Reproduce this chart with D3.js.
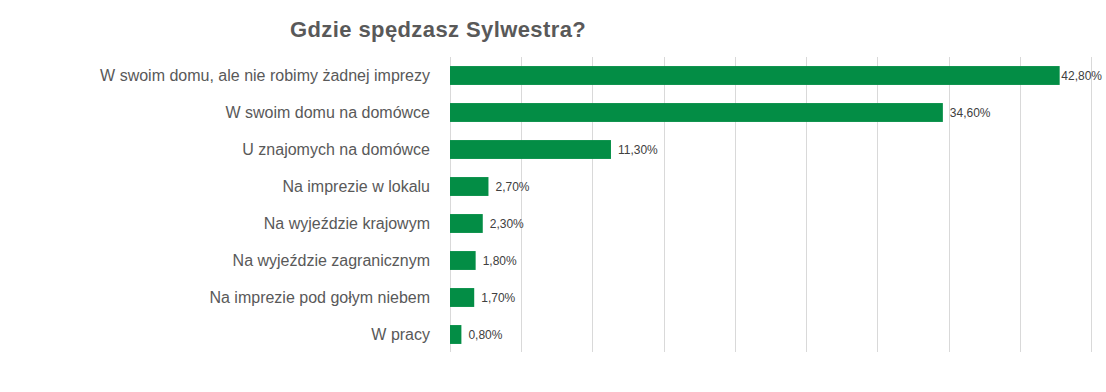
<!DOCTYPE html>
<html>
<head>
<meta charset="utf-8">
<script src="https://cdn.jsdelivr.net/npm/d3@7/dist/d3.min.js"></script>
<style>
  html, body { margin: 0; padding: 0; background: #fff; }
  svg { display: block; font-family: "Liberation Sans", Arial, sans-serif; }
</style>
</head>
<body>
<svg id="chart" width="1106" height="392"></svg>
<script>
const title = "Gdzie spędzasz Sylwestra?";
const categories = [
  "W swoim domu, ale nie robimy żadnej imprezy",
  "W swoim domu na domówce",
  "U znajomych na domówce",
  "Na imprezie w lokalu",
  "Na wyjeździe krajowym",
  "Na wyjeździe zagranicznym",
  "Na imprezie pod gołym niebem",
  "W pracy"
];
const values = [42.8, 34.6, 11.3, 2.7, 2.3, 1.8, 1.7, 0.8];
const gridTicks = [0, 5, 10, 15, 20, 25, 30, 35, 40, 45];

(function () {
const svg = d3.select("#chart");
const plotLeft = 450, plotRight = 1091, plotTop = 57, plotBottom = 353;

const x = d3.scaleLinear().domain([0, 45]).range([plotLeft, plotRight]);
const y = d3.scaleBand().domain(categories).range([plotTop, plotBottom]).paddingInner(0.49).paddingOuter(0.245);

// gridlines
svg.append("g").selectAll("line").data(gridTicks).join("line")
  .attr("x1", d => Math.round(x(d)) + 0.5).attr("x2", d => Math.round(x(d)) + 0.5)
  .attr("y1", plotTop).attr("y2", plotBottom - 1)
  .attr("stroke", "#d9d9d9").attr("stroke-width", 1);

// bars
svg.append("g").selectAll("rect").data(values).join("rect")
  .attr("x", x(0))
  .attr("y", (d, i) => y(categories[i]))
  .attr("width", d => x(d) - x(0))
  .attr("height", y.bandwidth())
  .attr("fill", "#038d45");

// category labels
svg.append("g").selectAll("text").data(categories).join("text")
  .attr("x", 430)
  .attr("y", d => y(d) + y.bandwidth() / 2)
  .attr("dy", "0.35em")
  .attr("text-anchor", "end")
  .attr("font-size", 16)
  .attr("fill", "#595959")
  .text(d => d);

// value labels
const fmt = v => v.toFixed(2).replace(".", ",") + "%";
svg.append("g").selectAll("text").data(values).join("text")
  .attr("y", (d, i) => y(categories[i]) + y.bandwidth() / 2)
  .attr("dy", "0.35em")
  .attr("font-size", 12)
  .attr("fill", "#404040")
  .text(d => fmt(d))
  .each(function (d) {
    const w = this.getComputedTextLength();
    let px = x(d) + 7;
    if (px + w > 1102) px = Math.max(x(d) + 1, 1102 - w);
    d3.select(this).attr("x", px);
  });

// title
svg.append("text")
  .attr("x", 290).attr("y", 37)
  .attr("font-size", 22)
  .attr("letter-spacing", 0.4)
  .attr("font-weight", "bold")
  .attr("fill", "#595959")
  .text(title);
})();
</script>
</body>
</html>
